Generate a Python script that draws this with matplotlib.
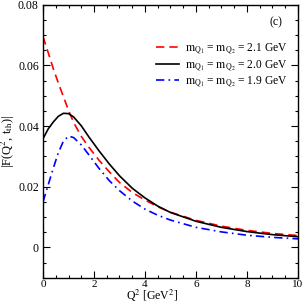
import matplotlib
matplotlib.use("Agg")
import matplotlib.pyplot as plt
from matplotlib.ticker import MultipleLocator

plt.rcParams['font.family'] = 'Liberation Serif'
plt.rcParams['mathtext.fontset'] = 'stix'

q2 = [0, 0.2, 0.4, 0.6, 0.8, 1.0, 1.2, 1.5, 1.8, 2.2, 2.6, 3.0, 3.5,
      4.0, 4.5, 5.0, 6.0, 7.0, 8.0, 9.0, 10.0]
f_21 = [0.0695, 0.0643, 0.0590, 0.0542, 0.0497, 0.0452, 0.0412, 0.0366,
        0.0330, 0.0287, 0.0249, 0.0214, 0.0181, 0.0156, 0.0134, 0.0116,
        0.0089, 0.0070, 0.0056, 0.0046, 0.0039]
f_20 = [0.0358, 0.0390, 0.0413, 0.0432, 0.0442, 0.0441, 0.0430, 0.0401,
        0.0364, 0.0318, 0.0275, 0.0236, 0.0195, 0.0163, 0.0136, 0.0115,
        0.0086, 0.0066, 0.0052, 0.0042, 0.0035]
f_19 = [0.0150, 0.0205, 0.0260, 0.0312, 0.0350, 0.0367, 0.0362, 0.0338,
        0.0305, 0.0260, 0.0220, 0.0187, 0.0153, 0.0126, 0.0106, 0.0090,
        0.0066, 0.0051, 0.0040, 0.0033, 0.0028]

labels = [r'$\mathrm{m}_{\mathrm{Q}_1}$ = $\mathrm{m}_{\mathrm{Q}_2}$ = 2.1 GeV',
          r'$\mathrm{m}_{\mathrm{Q}_1}$ = $\mathrm{m}_{\mathrm{Q}_2}$ = 2.0 GeV',
          r'$\mathrm{m}_{\mathrm{Q}_1}$ = $\mathrm{m}_{\mathrm{Q}_2}$ = 1.9 GeV']

fig = plt.figure(figsize=(3.05, 3.05), dpi=100)
ax = fig.add_axes([0.141, 0.0895, 0.836, 0.895])

ax.plot(q2, f_21, color='red', lw=1.2, ls=(0, (5, 3)), label=labels[0])
ax.plot(q2, f_20, color='black', lw=1.2, ls='-', label=labels[1])
ax.plot(q2, f_19, color='blue', lw=1.2, ls=(0, (5, 2.5, 1, 2.5)), label=labels[2])

ax.set_xlim(0, 10)
ax.set_ylim(-0.01, 0.08)
ax.xaxis.set_major_locator(MultipleLocator(2))
ax.xaxis.set_minor_locator(MultipleLocator(0.5))
ax.yaxis.set_minor_locator(MultipleLocator(0.005))
ax.set_yticks([0, 0.02, 0.04, 0.06, 0.08])
ax.set_yticklabels(['0', '0.02', '0.04', '0.06', '0.08'])
ax.tick_params(which='both', direction='in', top=True, right=True, labelsize=8.5)
ax.tick_params(which='major', length=5, width=0.8, pad=3)
ax.tick_params(axis='x', which='major', pad=1.5, labelsize=8)
ax.tick_params(which='minor', length=2.5, width=0.8)
for s in ax.spines.values():
    s.set_linewidth(1.0)

# x label placed by hand near the bottom edge
ax.set_xlabel(r'Q$^2$ [GeV$^2$]', fontsize=8.5)
ax.xaxis.set_label_coords(0.5, 0.004, transform=fig.transFigure)
ax.xaxis.label.set_va('bottom')
ax.set_ylabel(r'|F(Q$^2$, t$_{\mathrm{th}}$)|', fontsize=9, labelpad=0.5)

ax.text(0.915, 0.935, '(c)', transform=ax.transAxes, fontsize=8.5, ha='center', va='center')
ax.legend(loc='upper left', bbox_to_anchor=(0.42, 0.885), frameon=False, fontsize=8.3,
          handlelength=2.0, handletextpad=0.5, labelspacing=0.15, borderpad=0)

fig.savefig('out.png', dpi=100)
